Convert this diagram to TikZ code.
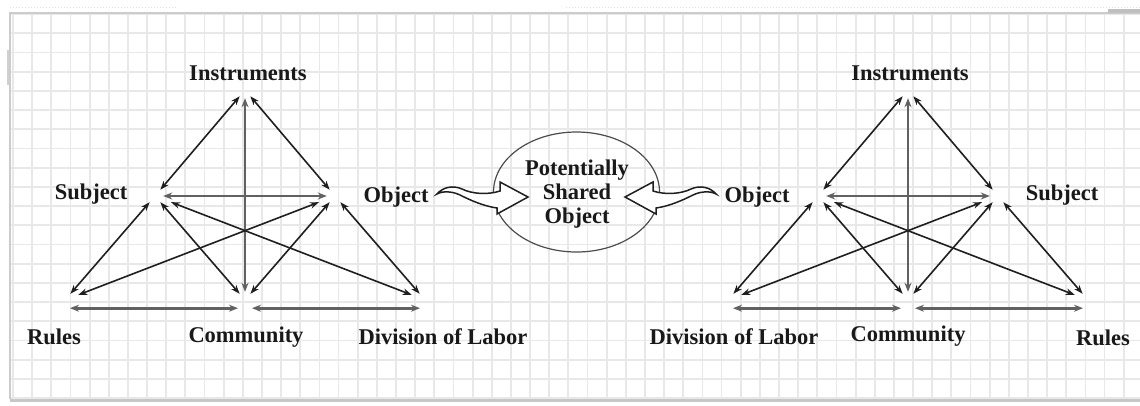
\documentclass[tikz,border=0pt]{standalone}
\usepackage{fontspec}
\setmainfont{Liberation Serif}
\usetikzlibrary{arrows.meta}
\begin{document}
\begin{tikzpicture}[x=1pt,y=-1pt,
  gridline/.style={draw=black!9, line width=1.8pt},
  lbl/.style={font=\fontsize{22.5}{24}\selectfont\bfseries, text=black!90, inner sep=0pt},
  vx/.style={circle, inner sep=0pt, minimum size=16pt},
  thinarr/.style={draw=black!88, line width=1.6pt, {Stealth[length=9pt,width=6.5pt]}-{Stealth[length=9pt,width=6.5pt]}},
  grayarr/.style={draw=black!62, line width=2.6pt, {Stealth[length=9pt,width=7pt]}-{Stealth[length=9pt,width=7pt]}},
  bigarr/.style={draw=black!88, line width=1.5pt, fill=white, line join=miter}]
\useasboundingbox (0,0) rectangle (1140,405);
\fill[white] (0,0) rectangle (1140,405);
% grid
\foreach \i in {0,...,58} \draw[gridline] ({13+19.15*\i},13) -- ({13+19.15*\i},399);
\foreach \j in {0,...,20} \draw[gridline] (10,{14+19.2*\j}) -- (1140,{14+19.2*\j});
% frame
\draw[draw=black!20, line width=2pt] (10,399) -- (10,13) -- (1140,13);
\draw[draw=black!22, line width=3.5pt] (10,400.5) -- (1140,400.5);
\draw[draw=black!12, line width=1pt, dotted] (10,7.5) -- (177,7.5);
\draw[draw=black!12, line width=1pt, dotted] (566,7.5) -- (1140,7.5);
\fill[black!25] (1108,9) rectangle (1140,13);
\fill[black!18] (7,50) rectangle (9,85);
% vertices
\foreach \p/\cx/\s in {L/245/1, M/908/-1} {
  \node[vx] (\p-I) at (\cx,90) {};
  \node[vx] (\p-S) at ({\cx-90*\s},196) {};
  \node[vx] (\p-O) at ({\cx+90*\s},196) {};
  \node[vx] (\p-R) at ({\cx-180*\s},300) {};
  \node[vx] (\p-C) at (\cx,300) {};
  \node[vx] (\p-D) at ({\cx+180*\s},300) {};
}
% edges
\foreach \p in {L,M} {
  \draw[thinarr] (\p-I) -- (\p-S);
  \draw[thinarr] (\p-I) -- (\p-O);
  \draw[grayarr] (\p-I) -- (\p-C);
  \draw[grayarr] (\p-S) -- (\p-O);
  \draw[thinarr] (\p-S) -- (\p-R);
  \draw[thinarr] (\p-S) -- (\p-C);
  \draw[thinarr, shorten <=9pt, shorten >=6pt] (\p-S) -- (\p-D);
  \draw[thinarr, shorten <=9pt, shorten >=6pt] (\p-O) -- (\p-R);
  \draw[thinarr] (\p-O) -- (\p-C);
  \draw[thinarr] (\p-O) -- (\p-D);
  \draw[grayarr, shorten <=5pt, shorten >=7pt] (\p-R.south) -- (\p-C.south);
  \draw[grayarr, shorten <=7pt, shorten >=5pt] (\p-C.south) -- (\p-D.south);
}
% labels left
\node[lbl] (L-Il) at (248,73) {Instruments};
\node[lbl] (L-Sl) at (91,194) {Subject};
\node[lbl] (L-Ol) at (396,197) {Object};
\node[lbl] (L-Rl) at (54,337) {Rules};
\node[lbl] (L-Cl) at (246,337) {Community};
\node[lbl] (L-Dl) at (443,337) {Division of Labor};
% labels right
\node[lbl] (M-Il) at (910,73) {Instruments};
\node[lbl] (M-Sl) at (1062,195) {Subject};
\node[lbl] (M-Ol) at (757,197) {Object};
\node[lbl] (M-Rl) at (1103,338) {Rules};
\node[lbl] (M-Cl) at (908,336) {Community};
\node[lbl] (M-Dl) at (734,337) {Division of Labor};
% shared object
\draw[draw=black!70, line width=1.2pt] (576.5,192) ellipse [x radius=83, y radius=60];
\node[lbl, align=center] (shared) at (577,194) {Potentially\\Shared\\Object};
% big curly arrows
\draw[bigarr] (437,194) .. controls (443,187) and (453,185) .. (462,189)
  .. controls (472,194) and (488,195) .. (500,191) -- (500,182) -- (528,197)
  -- (497,214) -- (497,208) .. controls (483,206) and (470,200) .. (460,195)
  .. controls (452,191) and (442,191) .. (437,194) -- cycle;
\draw[bigarr] (716,194) .. controls (710,187) and (700,185) .. (691,189)
  .. controls (681,194) and (665,195) .. (653,191) -- (653,182) -- (625,197)
  -- (656,214) -- (656,208) .. controls (670,206) and (683,200) .. (693,195)
  .. controls (701,191) and (711,191) .. (716,194) -- cycle;
\end{tikzpicture}
\end{document}
